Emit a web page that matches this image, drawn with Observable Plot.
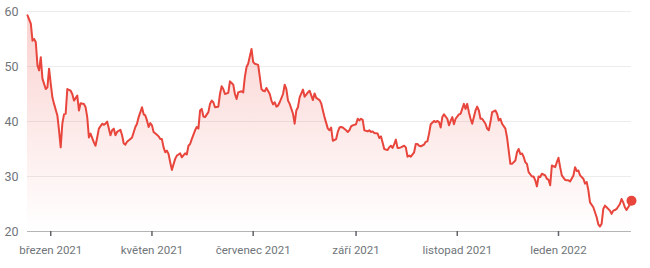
<!DOCTYPE html>
<html><head><meta charset="utf-8">
<script src="https://cdn.jsdelivr.net/npm/d3@7"></script>
<script src="https://cdn.jsdelivr.net/npm/@observablehq/plot@0.6"></script>
<style>body{margin:0;background:#fff;font-family:Roboto,sans-serif}</style>
</head><body><div id="chart"></div>
<script>
const dates = [
"2021-02-15","2021-02-17","2021-02-18","2021-02-19","2021-02-20","2021-02-21","2021-02-22","2021-02-23","2021-02-24","2021-02-26","2021-02-27","2021-02-28",
"2021-03-01","2021-03-02","2021-03-03","2021-03-05","2021-03-06","2021-03-07","2021-03-08","2021-03-09","2021-03-10","2021-03-11","2021-03-13","2021-03-14","2021-03-15","2021-03-17","2021-03-18","2021-03-19","2021-03-21","2021-03-22","2021-03-23","2021-03-24","2021-03-25","2021-03-27","2021-03-28","2021-03-29","2021-03-30",
"2021-04-01","2021-04-02","2021-04-03","2021-04-04","2021-04-06","2021-04-07","2021-04-08","2021-04-09","2021-04-10","2021-04-12","2021-04-13","2021-04-14","2021-04-15","2021-04-16","2021-04-18","2021-04-19","2021-04-21","2021-04-22","2021-04-23","2021-04-25","2021-04-26","2021-04-27","2021-04-28","2021-04-29","2021-04-30",
"2021-05-01","2021-05-02","2021-05-04","2021-05-05","2021-05-06","2021-05-07","2021-05-08","2021-05-09","2021-05-10","2021-05-11","2021-05-12","2021-05-13","2021-05-15","2021-05-16","2021-05-17","2021-05-18","2021-05-19","2021-05-21","2021-05-22","2021-05-23","2021-05-24","2021-05-25","2021-05-27","2021-05-28","2021-05-29","2021-05-30","2021-05-31",
"2021-06-01","2021-06-02","2021-06-04","2021-06-05","2021-06-06","2021-06-07","2021-06-08","2021-06-10","2021-06-11","2021-06-12","2021-06-13","2021-06-14","2021-06-16","2021-06-17","2021-06-18","2021-06-19","2021-06-20","2021-06-21","2021-06-22","2021-06-24","2021-06-25","2021-06-26","2021-06-27","2021-06-28","2021-06-30",
"2021-07-01","2021-07-02","2021-07-04","2021-07-05","2021-07-06","2021-07-07","2021-07-08","2021-07-09","2021-07-11","2021-07-12","2021-07-13","2021-07-14","2021-07-15","2021-07-16","2021-07-17","2021-07-19","2021-07-20","2021-07-21","2021-07-22","2021-07-23","2021-07-25","2021-07-26","2021-07-27","2021-07-28","2021-07-29","2021-07-31",
"2021-08-01","2021-08-02","2021-08-03","2021-08-04","2021-08-06","2021-08-07","2021-08-08","2021-08-10","2021-08-11","2021-08-12","2021-08-13","2021-08-15","2021-08-16","2021-08-17","2021-08-18","2021-08-20","2021-08-21","2021-08-22","2021-08-23","2021-08-24","2021-08-26","2021-08-27","2021-08-28","2021-08-29","2021-08-30",
"2021-09-01","2021-09-02","2021-09-03","2021-09-04","2021-09-05","2021-09-06","2021-09-08","2021-09-09","2021-09-10","2021-09-11","2021-09-12","2021-09-14","2021-09-15","2021-09-16","2021-09-17","2021-09-18","2021-09-20","2021-09-21","2021-09-22","2021-09-23","2021-09-24","2021-09-25","2021-09-26","2021-09-27","2021-09-28","2021-09-30",
"2021-10-01","2021-10-02","2021-10-03","2021-10-04","2021-10-06","2021-10-07","2021-10-08","2021-10-09","2021-10-10","2021-10-12","2021-10-13","2021-10-14","2021-10-15","2021-10-16","2021-10-18","2021-10-19","2021-10-20","2021-10-21","2021-10-22","2021-10-23","2021-10-24","2021-10-26","2021-10-27","2021-10-28","2021-10-29","2021-10-30","2021-10-31",
"2021-11-02","2021-11-03","2021-11-04","2021-11-05","2021-11-06","2021-11-07","2021-11-08","2021-11-09","2021-11-10","2021-11-12","2021-11-13","2021-11-14","2021-11-15","2021-11-16","2021-11-18","2021-11-19","2021-11-20","2021-11-21","2021-11-22","2021-11-24","2021-11-25","2021-11-26","2021-11-27","2021-11-28","2021-11-30",
"2021-12-01","2021-12-02","2021-12-03","2021-12-04","2021-12-06","2021-12-07","2021-12-08","2021-12-09","2021-12-10","2021-12-11","2021-12-12","2021-12-13","2021-12-14","2021-12-16","2021-12-17","2021-12-18","2021-12-19","2021-12-20","2021-12-21","2021-12-22","2021-12-24","2021-12-25","2021-12-26","2021-12-27","2021-12-28","2021-12-30","2021-12-31",
"2022-01-01","2022-01-02","2022-01-03","2022-01-05","2022-01-06","2022-01-07","2022-01-08","2022-01-10","2022-01-11","2022-01-12","2022-01-13","2022-01-14","2022-01-16","2022-01-17","2022-01-18","2022-01-19","2022-01-20","2022-01-22","2022-01-23","2022-01-24","2022-01-25","2022-01-26","2022-01-27","2022-01-28","2022-01-29","2022-01-30",
"2022-02-01","2022-02-02","2022-02-03","2022-02-04","2022-02-05","2022-02-07","2022-02-08","2022-02-09","2022-02-10","2022-02-11","2022-02-13","2022-02-14"
];
const prices = [
59.3,57.8,54.7,55.0,54.4,50.2,49.3,51.7,47.8,45.9,46.2,49.6,
46.9,44.4,43.2,41.1,38.4,35.3,39.6,41.3,41.4,45.9,45.6,45.0,43.8,44.7,42.0,43.3,43.2,42.6,40.8,37.1,37.8,36.2,35.6,37.1,38.7,
39.6,39.4,39.6,40.0,37.5,38.4,38.7,37.5,38.1,38.5,37.5,36.0,35.8,36.3,36.8,37.1,39.0,39.6,40.8,42.6,41.3,41.1,40.2,39.0,39.7,
39.3,38.1,37.6,37.3,36.8,36.8,35.3,34.4,34.7,34.1,32.6,31.2,33.2,33.8,34.0,34.2,33.5,34.2,34.0,35.6,35.9,36.8,38.4,39.0,38.7,42.0,42.3,
40.9,40.8,41.7,43.2,43.8,43.5,42.6,42.7,45.0,46.4,45.9,45.0,45.2,47.3,47.0,46.7,45.0,44.1,45.3,45.5,45.3,48.1,49.9,50.5,53.2,
50.8,50.5,50.3,48.1,45.9,45.6,45.5,46.1,45.0,43.8,43.1,43.5,42.7,42.9,43.5,45.0,46.7,45.9,43.8,43.2,41.4,39.6,42.0,42.6,44.4,45.8,
44.5,44.9,45.3,45.6,43.9,45.1,44.3,43.9,43.3,42.0,40.8,38.7,38.4,38.9,36.5,36.8,38.1,38.9,39.0,38.9,38.4,38.1,38.4,39.1,39.3,
39.5,40.5,40.2,40.5,40.3,38.4,38.2,38.4,38.1,38.2,37.9,37.8,37.0,37.3,36.2,35.0,34.8,35.3,35.6,35.2,35.9,36.7,35.2,35.2,35.3,35.6,
35.3,33.6,33.8,33.6,34.4,35.9,35.9,35.6,35.5,35.8,36.3,36.4,37.8,39.5,40.1,39.9,40.1,39.9,38.9,40.8,41.3,40.5,39.3,40.1,40.8,39.5,40.5,
41.3,41.4,42.3,43.2,42.3,43.2,41.7,40.5,39.6,42.0,42.7,42.0,40.5,40.5,39.6,38.7,38.4,39.9,41.7,42.0,41.4,40.2,40.5,39.6,38.7,
37.1,34.7,32.3,32.3,32.9,34.4,35.0,34.1,34.2,33.6,32.6,32.3,30.8,30.0,30.0,29.3,28.2,30.0,29.9,30.5,30.2,29.6,29.4,28.4,32.0,31.7,32.6,
33.4,31.7,30.2,29.4,29.3,29.3,29.1,30.2,31.7,31.0,31.1,30.2,29.6,28.7,29.0,27.5,25.3,24.4,23.5,22.6,21.3,20.9,21.4,24.1,24.7,24.4,
23.8,23.2,23.8,23.9,24.1,25.0,25.9,25.3,24.4,23.9,24.9,25.6
];
const yTicks = [20, 30, 40, 50, 60];
const monthTicks = ["2021-03-01","2021-05-01","2021-07-01","2021-09-01","2021-11-01","2022-01-01"];
const monthLabels = ["březen 2021","květen 2021","červenec 2021","září 2021","listopad 2021","leden 2022"];

const data = dates.map((d, i) => ({date: new Date(d), value: prices[i]}));
const tickDates = monthTicks.map(d => new Date(d));
const RED = "#e8453c";

function gradientDefs() {
  const ns = "http://www.w3.org/2000/svg";
  const defs = document.createElementNS(ns, "defs");
  const lg = document.createElementNS(ns, "linearGradient");
  lg.setAttribute("id", "priceFill");
  lg.setAttribute("x1", "0"); lg.setAttribute("y1", "0");
  lg.setAttribute("x2", "0"); lg.setAttribute("y2", "1");
  [["0%", 0.24], ["100%", 0]].forEach(([off, op]) => {
    const s = document.createElementNS(ns, "stop");
    s.setAttribute("offset", off);
    s.setAttribute("stop-color", RED);
    s.setAttribute("stop-opacity", op);
    lg.appendChild(s);
  });
  defs.appendChild(lg);
  return defs;
}

const chart = Plot.plot({
  width: 650, height: 268,
  marginTop: 11, marginBottom: 37, marginLeft: 27, marginRight: 19,
  style: {fontFamily: "Roboto, sans-serif", fontSize: "11.5px", color: "#70757a", background: "#fff"},
  x: {type: "utc", domain: [new Date("2021-02-15"), new Date("2022-02-14")]},
  y: {domain: [20, 60]},
  marks: [
    gradientDefs,
    Plot.gridY(yTicks.slice(1), {stroke: "#ececec", strokeOpacity: 1}),
    Plot.areaY(data, {x: "date", y1: 20, y2: "value", fill: "url(#priceFill)"}),
    Plot.ruleY([20], {stroke: "#b5b5b5"}),
    Plot.lineY(data, {x: "date", y: "value", stroke: RED, strokeWidth: 2}),
    Plot.dot(data.slice(-1), {x: "date", y: "value", r: 5, fill: RED}),
    Plot.axisY(yTicks, {tickSize: 0, tickPadding: 9, fill: "#70757a", fontSize: 12.5, label: null}),
    Plot.axisX(tickDates, {
      tickSize: 5, tickPadding: 9, stroke: "#5f6368", strokeWidth: 1.5, fill: "#70757a", label: null,
      tickFormat: d => monthLabels[tickDates.findIndex(t => +t === +d)]
    })
  ]
});
document.getElementById("chart").appendChild(chart);
</script>
</body></html>
